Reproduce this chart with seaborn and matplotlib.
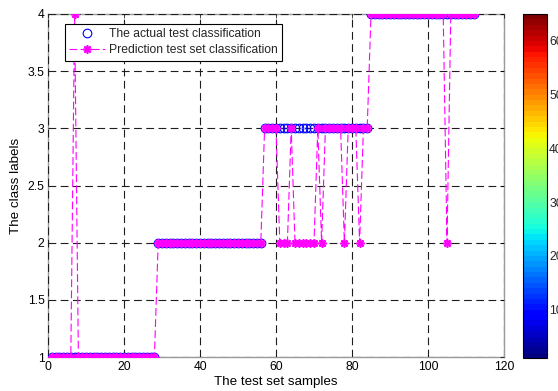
import matplotlib
matplotlib.use("Agg")
import matplotlib.pyplot as plt
import seaborn as sns
import pandas as pd
from matplotlib.colors import Normalize
from matplotlib.cm import ScalarMappable

# ---------------- data ----------------
samples = list(range(1, 113))
actual_class = [
    1, 1, 1, 1, 1, 1, 1, 1, 1, 1, 1, 1, 1, 1, 1, 1, 1, 1, 1, 1, 1, 1, 1, 1, 1, 1, 1, 1,
    2, 2, 2, 2, 2, 2, 2, 2, 2, 2, 2, 2, 2, 2, 2, 2, 2, 2, 2, 2, 2, 2, 2, 2, 2, 2, 2, 2,
    3, 3, 3, 3, 3, 3, 3, 3, 3, 3, 3, 3, 3, 3, 3, 3, 3, 3, 3, 3, 3, 3, 3, 3, 3, 3, 3, 3,
    4, 4, 4, 4, 4, 4, 4, 4, 4, 4, 4, 4, 4, 4, 4, 4, 4, 4, 4, 4, 4, 4, 4, 4, 4, 4, 4, 4,
]
predicted_class = [
    1, 1, 1, 1, 1, 1, 4, 1, 1, 1, 1, 1, 1, 1, 1, 1, 1, 1, 1, 1, 1, 1, 1, 1, 1, 1, 1, 1,
    2, 2, 2, 2, 2, 2, 2, 2, 2, 2, 2, 2, 2, 2, 2, 2, 2, 2, 2, 2, 2, 2, 2, 2, 2, 2, 2, 2,
    3, 3, 3, 3, 2, 2, 2, 3, 2, 2, 2, 2, 2, 2, 3, 2, 3, 3, 3, 3, 3, 2, 3, 3, 3, 2, 3, 3,
    4, 4, 4, 4, 4, 4, 4, 4, 4, 4, 4, 4, 4, 4, 4, 4, 4, 4, 4, 4, 2, 4, 4, 4, 4, 4, 4, 4,
]
x_ticks = [0, 20, 40, 60, 80, 100, 120]
y_ticks = [1, 1.5, 2, 2.5, 3, 3.5, 4]
y_tick_labels = ["1", "1.5", "2", "2.5", "3", "3.5", "4"]
cbar_ticks = [10, 20, 30, 40, 50, 60]
legend_labels = ["The actual test classification", "Prediction test set classification"]
x_label = "The test set samples"
y_label = "The class labels"

df = pd.DataFrame({"sample": samples, "actual": actual_class, "predicted": predicted_class})

# ---------------- style ----------------
sns.set_style("white")
plt.rcParams["font.family"] = ["Liberation Sans", "DejaVu Sans"]
FS = 8.7

fig = plt.figure(figsize=(5.58, 3.91), dpi=100)
W, H = 558, 391
ax = fig.add_axes([48 / W, 1 - 357 / H, (504 - 48) / W, (357 - 14) / H])

sns.lineplot(data=df, x="sample", y="actual", ax=ax, sort=False, estimator=None,
             linestyle="none", marker="o", markersize=6.2,
             markerfacecolor="none", markeredgecolor="#0000FF", markeredgewidth=0.8,
             color="#0000FF", label=legend_labels[0], legend=False)
sns.lineplot(data=df, x="sample", y="predicted", ax=ax, sort=False, estimator=None,
             linestyle=(0, (7, 3)), linewidth=0.8, color="#FF00FF",
             marker=(8, 2, 0), markersize=6, markeredgecolor="#FF00FF",
             markerfacecolor="#FF00FF", markeredgewidth=1.2,
             label=legend_labels[1], legend=False)

ax.set_xlim(0, 120)
ax.set_ylim(1, 4)
ax.set_xticks(x_ticks)
ax.set_yticks(y_ticks)
ax.set_yticklabels(y_tick_labels)
ax.tick_params(direction="in", length=3, width=0.5, color="k", labelsize=FS,
               top=True, right=True, labelcolor="black")
ax.tick_params(axis="x", pad=3)
ax.tick_params(axis="y", pad=2.5)

ax.set_axisbelow(True)
ax.grid(True, color="#1e1e1e", linestyle=(0, (7, 4)), linewidth=0.8)
for sp in ax.spines.values():
    sp.set_color("#9a9a9a")
    sp.set_linewidth(1.0)
    sp.set_zorder(0.4)

ax.set_xlabel(x_label, fontsize=9.6, labelpad=2, color="black")
ax.set_ylabel(y_label, fontsize=9.6, labelpad=4, color="black")

handles = ax.lines[:2]
leg = ax.legend(handles, legend_labels, loc="upper left",
                bbox_to_anchor=(65 / W, 1 - 24 / H), bbox_transform=fig.transFigure,
                borderaxespad=0, fontsize=FS, frameon=True, fancybox=False,
                framealpha=1, edgecolor="black", handlelength=3.0,
                handletextpad=0.3, labelspacing=0.35, borderpad=0.35)
leg.get_frame().set_linewidth(0.8)

# ---------------- colorbar ----------------
cax = fig.add_axes([523 / W, 1 - 358 / H, 24 / W, 344 / H])
sm = ScalarMappable(norm=Normalize(1, 65), cmap=plt.get_cmap("jet", 64))
cb = fig.colorbar(sm, cax=cax, ticks=cbar_ticks)
cb.outline.set_linewidth(0.8)
cb.outline.set_edgecolor("black")
cax.tick_params(direction="in", length=3, width=0.5, labelsize=FS, pad=1.5)

fig.savefig("out.png", dpi=100)
